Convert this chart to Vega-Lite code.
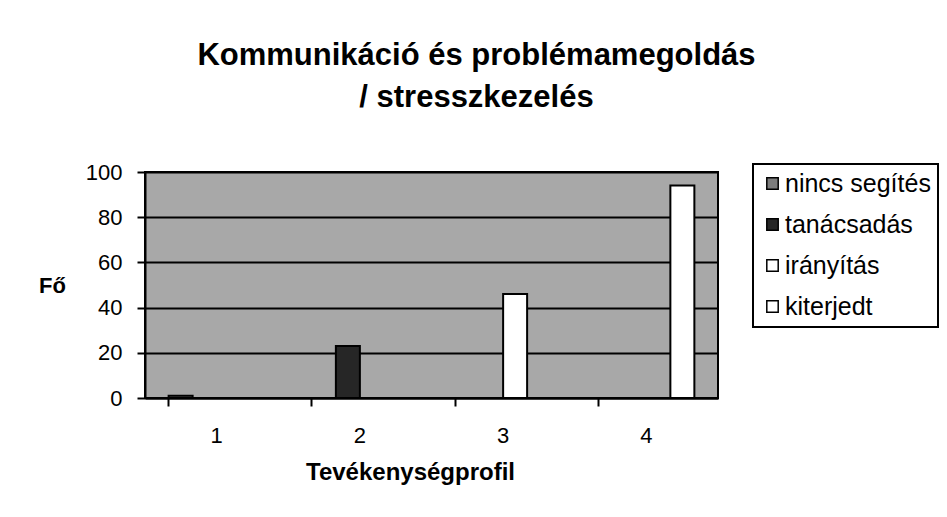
{
  "$schema": "https://vega.github.io/schema/vega-lite/v6.json",
  "width": 573,
  "height": 226,
  "autosize": {"type": "none"},
  "padding": {"left": 145, "top": 172, "right": 229, "bottom": 119},
  "background": "white",
  "title": {
    "text": ["Kommunikáció és problémamegoldás", "/ stresszkezelés"],
    "font": "Liberation Sans",
    "fontSize": 31,
    "fontWeight": "bold",
    "color": "black",
    "anchor": "middle",
    "dx": 45,
    "lineHeight": 42,
    "offset": 47
  },
  "data": {
    "values": [
      {"profil": "1", "tipus": "nincs segítés", "fo": 1},
      {"profil": "2", "tipus": "tanácsadás", "fo": 23},
      {"profil": "3", "tipus": "irányítás", "fo": 46},
      {"profil": "4", "tipus": "kiterjedt", "fo": 94}
    ]
  },
  "mark": {"type": "bar", "stroke": "black", "strokeWidth": 2},
  "encoding": {
    "x": {
      "field": "profil",
      "type": "nominal",
      "scale": {"paddingInner": 0.33, "paddingOuter": 0.165},
      "axis": {
        "title": "Tevékenységprofil",
        "titleFont": "Liberation Sans",
        "titleFontSize": 24,
        "titleFontWeight": "bold",
        "titleColor": "black",
        "titleX": 265,
        "titleY": 74,
        "titleBaseline": "middle",
        "titleAlign": "center",
        "labelAngle": 0,
        "labelFont": "Liberation Sans",
        "labelFontSize": 22,
        "labelColor": "black",
        "labelPadding": 19,
        "bandPosition": 0,
        "tickSize": 8,
        "tickColor": "black",
        "tickWidth": 2,
        "domainColor": "black",
        "domainWidth": 2,
        "grid": false
      }
    },
    "xOffset": {
      "field": "tipus",
      "type": "nominal",
      "scale": {"domain": ["nincs segítés", "tanácsadás", "irányítás", "kiterjedt"], "paddingInner": 0, "paddingOuter": 0}
    },
    "y": {
      "field": "fo",
      "type": "quantitative",
      "scale": {"domain": [0, 100], "nice": false},
      "axis": {
        "title": "Fő",
        "titleFont": "Liberation Sans",
        "titleFontSize": 22,
        "titleFontWeight": "bold",
        "titleColor": "black",
        "titleAngle": 0,
        "titleX": -93,
        "titleY": 113,
        "titleAlign": "center",
        "titleBaseline": "middle",
        "values": [0, 20, 40, 60, 80, 100],
        "labelFont": "Liberation Sans",
        "labelFontSize": 22,
        "labelColor": "black",
        "labelPadding": 15,
        "tickSize": 8,
        "tickColor": "black",
        "tickWidth": 2,
        "domainColor": "black",
        "domainWidth": 2,
        "grid": true,
        "gridColor": "black",
        "gridWidth": 2,
        "gridOpacity": 1
      }
    },
    "color": {
      "field": "tipus",
      "type": "nominal",
      "scale": {
        "domain": ["nincs segítés", "tanácsadás", "irányítás", "kiterjedt"],
        "range": ["#7d7d7d", "#262626", "#ffffff", "#ffffff"]
      },
      "legend": {
        "title": null,
        "orient": "none",
        "legendX": 608,
        "legendY": -8,
        "padding": 7,
        "strokeColor": "black",
        "fillColor": "white",
        "symbolType": "square",
        "symbolSize": 130,
        "symbolStrokeColor": "black",
        "symbolStrokeWidth": 1.5,
        "symbolOpacity": 1,
        "labelFont": "Liberation Sans",
        "labelFontSize": 25,
        "labelColor": "black",
        "labelOffset": 0,
        "rowPadding": 15,
        "labelLimit": 300,
        "encode": {"legend": {"update": {"strokeWidth": {"value": 2}}}}
      }
    }
  },
  "config": {
    "view": {"fill": "#a8a8a8", "stroke": "black", "strokeWidth": 2}
  }
}
